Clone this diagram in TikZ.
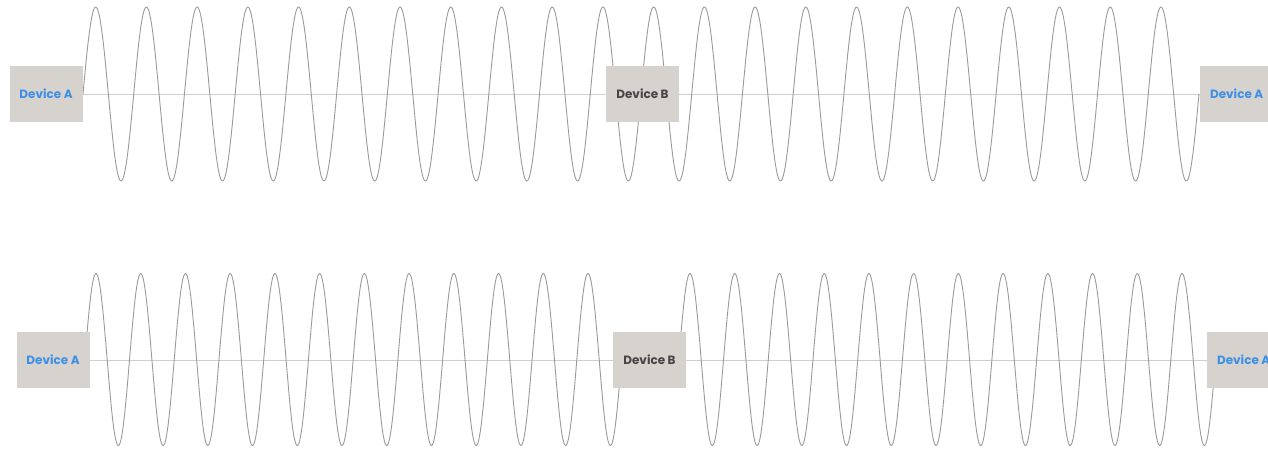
\documentclass[tikz,border=0pt]{standalone}
\usepackage{fontspec}
\setmainfont{Poppins}
\usetikzlibrary{backgrounds}
\definecolor{boxfill}{HTML}{D6D3CF}
\definecolor{devblue}{HTML}{3D8FE6}
\definecolor{devgray}{HTML}{454545}
\definecolor{wavegray}{HTML}{9A9A9A}
\definecolor{linegray}{HTML}{CFCFCF}
\begin{document}
\begin{tikzpicture}[x=1pt,y=-1pt,
  devbox/.style={fill=boxfill,draw=none,minimum width=73pt,minimum height=56pt,inner sep=0pt,font=\fontsize{12}{14}\selectfont\bfseries},
  devA/.style={devbox,text=devblue},
  devB/.style={devbox,text=devgray},
  wave/.style={draw=wavegray,line width=0.9pt,line join=round},
  axis/.style={draw=linegray,line width=0.9pt}]
\useasboundingbox (0,0) rectangle (1268,451);
% top row
\node[devA] (a1) at (46,94) {Device A};
\node[devB] (b1) at (642.5,94) {Device B};
\node[devA,anchor=west] (c1) at (1200,94) {Device A};
% bottom row
\node[devA] (a2) at (53,360) {Device A};
\node[devB] (b2) at (649.5,360) {Device B};
\node[devA,anchor=west] (c2) at (1207,360) {Device A};
\begin{pgfonlayer}{background}
\draw[axis] (a1.east) -- (b1.west);
\draw[axis] (b1.east) -- (c1.west);
\draw[axis] (a2.east) -- (b2.west);
\draw[axis] (b2.east) -- (c2.west);
\draw[wave] plot[domain=83:1199,samples=1400] (\x,{94-87*sin(360*((\x-83)/50.727))});
\draw[wave] plot[domain=84.8:621.6,samples=700] (\x,{359.5-86*sin(360*((\x-84.8)/44.73))});
\draw[wave] plot[domain=678.8:1215.6,samples=700] (\x,{359.5-86*sin(360*((\x-678.8)/44.73))});
\end{pgfonlayer}
\end{tikzpicture}
\end{document}
